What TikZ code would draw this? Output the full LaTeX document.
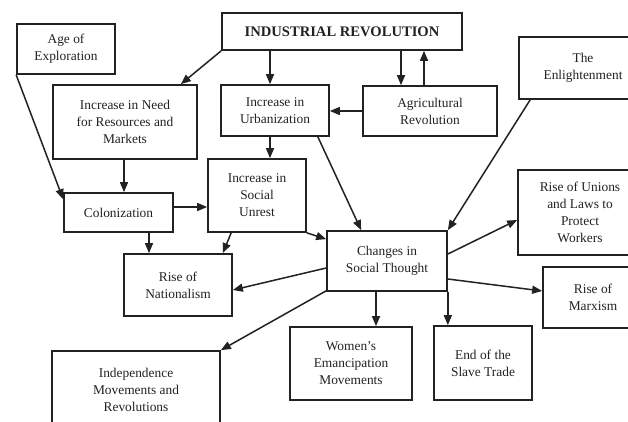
\documentclass[tikz,border=0pt]{standalone}
\usepackage{fontspec}
\setmainfont{Liberation Serif}
\usetikzlibrary{arrows.meta,calc}
\definecolor{ink}{HTML}{222222}
\begin{document}
\begin{tikzpicture}[x=1pt,y=-1pt,
  box/.style={draw=ink, line width=1.7pt, inner sep=0pt, align=center,
              font=\fontsize{13.4}{17}\selectfont, text=ink},
  arr/.style={draw=ink, line width=1.5pt, -{Triangle[length=10pt,width=8pt]}}]
\useasboundingbox (0,0) rectangle (628,422);
\clip (0,0) rectangle (628,422);
\fill[white] (0,0) rectangle (628,422);

% boxes
\node[box, minimum width=240pt, minimum height=37pt,
      font=\bfseries\fontsize{14.6}{16}\selectfont] (ir) at (342,31.5) {INDUSTRIAL REVOLUTION};
\node[box, minimum width=98pt, minimum height=50pt] (age) at (66,49) {Age of\\Exploration};
\node[box, minimum width=144pt, minimum height=74pt] (need) at (125,122) {Increase in Need\\for Resources and\\Markets};
\node[box, minimum width=108pt, minimum height=51pt] (urb) at (275,110.5) {Increase in\\Urbanization};
\node[box, minimum width=134pt, minimum height=50pt] (agr) at (430,111) {Agricultural\\Revolution};
\node[box, minimum width=128pt, minimum height=62pt] (enl) at (583,68) {The\\Enlightenment};
\node[box, minimum width=98pt, minimum height=73pt] (unr) at (257,195.5) {Increase in\\Social\\Unrest};
\node[box, minimum width=109pt, minimum height=39pt] (col) at (118.5,212.5) {Colonization};
\node[box, minimum width=108pt, minimum height=62pt] (nat) at (178,285) {Rise of\\Nationalism};
\node[box, minimum width=168pt, minimum height=78pt] (ind) at (136,390) {Independence\\Movements and\\Revolutions};
\node[box, minimum width=120pt, minimum height=60pt] (chg) at (387,261) {Changes in\\Social Thought};
\node[box, minimum width=124pt, minimum height=85pt] (uni) at (580,212.5) {Rise of Unions\\and Laws to\\Protect\\Workers};
\node[box, minimum width=100pt, minimum height=61pt] (mar) at (593,297.5) {Rise of\\Marxism};
\node[box, minimum width=122pt, minimum height=73pt] (wom) at (351,363.5) {Women's\\Emancipation\\Movements};
\node[box, minimum width=98pt, minimum height=74pt] (sla) at (483,363) {End of the\\Slave Trade};

% helper coordinates
\path (urb.north) ++(-5,0) coordinate (u1);
\path (urb.south) ++(-5,0) coordinate (u2);
\path (agr.north) ++(-29,0) coordinate (a1);
\path (agr.north) ++(-6,0) coordinate (a2);
\path (need.south) ++(-1,0) coordinate (n1);
\path (col.east) ++(0,-5.5) coordinate (c2);
\path (col.south) ++(30.5,0) coordinate (c3);
\path (chg.south) ++(-11,0) coordinate (w1);

% connectors
\draw[arr] (ir.south west) -- ($(need.north east)+(-17,0)$);
\draw[arr] (u1 |- ir.south) -- (u1);
\draw[arr] (a1 |- ir.south) -- (a1);
\draw[arr] (a2) -- (a2 |- ir.south);
\draw[arr] (agr.west) -- (agr.west -| urb.east);
\draw[arr] (age.south west) -- ($(col.north west)+(0,7)$);
\draw[arr] (n1) -- (n1 |- col.north);
\draw[arr] (u2) -- (u2 |- unr.north);
\draw[arr] ($(urb.south east)+(-12,0)$) -- ($(chg.north west)+(35,0)$);
\draw[arr] (c2) -- (c2 -| unr.west);
\draw[arr] (c3) -- (c3 |- nat.north);
\draw[arr] ($(unr.south west)+(24,0)$) -- ($(nat.north east)+(-10,0)$);
\draw[arr] (unr.south east) -- ($(chg.north west)+(0,9)$);
\draw[arr] ($(chg.west)+(0,7)$) -- ($(nat.east)+(0,5)$);
\draw[arr] ($(chg.south west)+(0,-1)$) -- (ind.north east);
\draw[arr] ($(enl.south west)+(12,0)$) -- (chg.north east);
\draw[arr] ($(chg.east)+(0,-7)$) -- ($(uni.west)+(0,7.5)$);
\draw[arr] ($(chg.east)+(0,18)$) -- ($(mar.west)+(0,-6.5)$);
\draw[arr] (w1) -- (w1 |- wom.north);
\draw[arr] (chg.south east) -- (chg.south east |- sla.north);
\end{tikzpicture}
\end{document}
